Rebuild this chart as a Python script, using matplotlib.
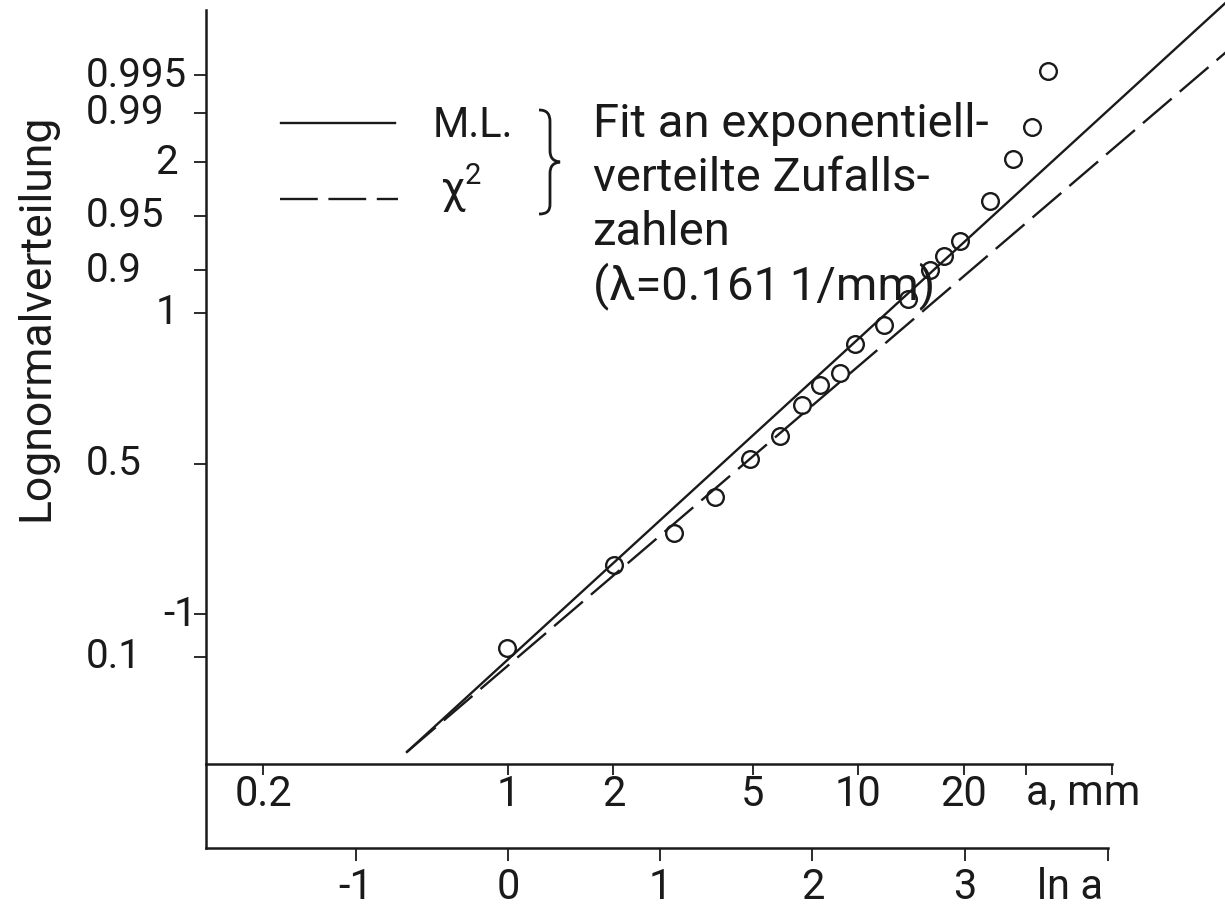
import numpy as np
import matplotlib
matplotlib.use("Agg")
import matplotlib.pyplot as plt
from matplotlib import transforms
from matplotlib.lines import Line2D
from matplotlib.path import Path
from matplotlib.patches import PathPatch
from statistics import NormalDist

# ------------------------------------------------------------
# Daten
# ------------------------------------------------------------
ln_a = [-0.007, 0.696, 1.091, 1.360, 1.590, 1.787, 1.932, 2.050, 2.181, 2.280,
        2.470, 2.628, 2.773, 2.865, 2.970, 3.167, 3.318, 3.443, 3.548]
probit = [-1.224, -0.674, -0.461, -0.222, 0.030, 0.182, 0.388, 0.521, 0.601, 0.793,
          0.919, 1.092, 1.284, 1.377, 1.476, 1.742, 2.021, 2.233, 2.605]

# Fitgeraden  z = (ln a - mu) / sigma
mu_ml, sigma_ml = 1.407, 1.082
mu_chi, sigma_chi = 1.554, 1.159
fit_from, fit_to = -0.664, 4.75

prob_ticks = [0.1, 0.5, 0.9, 0.95, 0.99, 0.995]
probit_ticks = [-1, 1, 2]
a_ticks = [0.2, 1, 2, 5, 10, 20]
a_minor = [30]
ln_ticks = [-1, 0, 1, 2, 3]

text_lines = ["Fit an exponentiell-", "verteilte Zufalls-", "zahlen", "(λ=0.161\u20091/mm)"]

# ------------------------------------------------------------
# Grundgeruest
# ------------------------------------------------------------
fam = ["Roboto", "DejaVu Sans"]
ink = "#1a1a1a"

W, H = 1225, 910
fig = plt.figure(figsize=(W / 100, H / 100), dpi=100)
pix = transforms.Affine2D().scale(1 / W, -1 / H).translate(0, 1) + fig.transFigure

x0, x1 = -1.984, 4.711
y0, y1 = -1.994, 3.076

ax = fig.add_axes([206 / W, 1 - 764 / H, (W - 206) / W, 764 / H])
ax.set_xlim(x0, x1)
ax.set_ylim(y0, y1)
ax.patch.set_alpha(0)
for s in ("top", "right"):
    ax.spines[s].set_visible(False)
ax.spines["left"].set_bounds(y0, 3.009)
ax.spines["bottom"].set_bounds(x0, 3.968)
for s in ("left", "bottom"):
    ax.spines[s].set_linewidth(1.8)
    ax.spines[s].set_color(ink)

# Fitgeraden
xf = np.array([fit_from, fit_to])
ax.plot(xf, (xf - mu_ml) / sigma_ml, color=ink, lw=1.7)
ax.plot(xf, (xf - mu_chi) / sigma_chi, color=ink, lw=1.7, dashes=(16, 4.5))

# Messpunkte
ax.plot(ln_a, probit, "o", ms=12, mfc="none", mec=ink, mew=1.7)

# ------------------------------------------------------------
# y-Achse (Wahrscheinlichkeitsnetz)
# ------------------------------------------------------------
nd = NormalDist()
prob_z = [nd.inv_cdf(p) for p in prob_ticks]
ax.set_yticks(prob_z + probit_ticks)
ax.set_yticklabels([])
ax.tick_params(axis="y", direction="out", length=8.5, width=1.3, color=ink)

ylab_tr = transforms.blended_transform_factory(pix, ax.transData)
for p, z in zip(prob_ticks, prob_z):
    ax.text(86, z, f"{p:g}", transform=ylab_tr, ha="left", va="center",
            family=fam, fontsize=29, color=ink)
for z in probit_ticks:
    xr = 197 if z < 0 else 178
    ax.text(xr, z, f"{z:d}", transform=ylab_tr, ha="right", va="center",
            family=fam, fontsize=29, color=ink)

fig.text(36, 317, "Lognormalverteilung", transform=pix, rotation=90,
         ha="center", va="center", family=fam, fontsize=32, color=ink)

# ------------------------------------------------------------
# x-Achse a, mm
# ------------------------------------------------------------
a_pos = list(np.log(a_ticks)) + list(np.log(a_minor)) + [3.968]
ax.set_xticks(a_pos)
ax.set_xticklabels([f"{a:g}" for a in a_ticks] + [""] * (len(a_minor) + 1),
                   family=fam, fontsize=30, color=ink)
ax.tick_params(axis="x", direction="out", length=8, width=1.3, pad=-1, color=ink)
fig.text(1026, 804, "a, mm", transform=pix, ha="left", va="baseline",
         family=fam, fontsize=30, color=ink)

# x-Achse ln a
ax2 = fig.add_axes([206 / W, 1 - 848 / H, (W - 206) / W, (848 - 764) / H])
ax2.set_xlim(x0, x1)
ax2.patch.set_alpha(0)
for s in ("top", "right"):
    ax2.spines[s].set_visible(False)
for s in ("left", "bottom"):
    ax2.spines[s].set_linewidth(1.8)
    ax2.spines[s].set_color(ink)
ax2.spines["bottom"].set_bounds(x0, 3.94)
ax2.set_yticks([])
ax2.set_xticks(ln_ticks + [3.94])
ax2.set_xticklabels([f"{v:d}" for v in ln_ticks] + [""],
                    family=fam, fontsize=30, color=ink)
ax2.tick_params(axis="x", direction="out", length=9, width=1.3, pad=5, color=ink)
fig.text(1037, 899, "ln a", transform=pix, ha="left", va="baseline",
         family=fam, fontsize=30, color=ink)

# ------------------------------------------------------------
# Legende
# ------------------------------------------------------------
fig.add_artist(Line2D([281, 395], [123, 123], transform=pix, color=ink, lw=1.7))
fig.add_artist(Line2D([280, 398], [199, 199], transform=pix, color=ink, lw=1.7,
                      dashes=(16, 4.5)))
fig.text(433, 137, "M.L.", transform=pix, ha="left", va="baseline",
         family=fam, fontsize=30, color=ink)
fig.text(440, 203, "χ", transform=pix, ha="left", va="baseline",
         family=fam, fontsize=32, color=ink)
fig.text(465, 184, "2", transform=pix, ha="left", va="baseline",
         family=fam, fontsize=21, color=ink)

brace = Path(
    [(539, 110), (547, 110), (550, 114), (550, 122),
     (550, 150), (550, 158), (553, 161), (560, 162),
     (553, 163), (550, 166), (550, 174),
     (550, 204), (550, 211), (547, 214), (539, 214)],
    [Path.MOVETO, Path.CURVE4, Path.CURVE4, Path.CURVE4,
     Path.LINETO, Path.CURVE4, Path.CURVE4, Path.CURVE4,
     Path.CURVE4, Path.CURVE4, Path.CURVE4,
     Path.LINETO, Path.CURVE4, Path.CURVE4, Path.CURVE4])
fig.add_artist(PathPatch(brace, transform=pix, fc="none", ec=ink, lw=2))

for i, line in enumerate(text_lines):
    fig.text(593, 137 + 54 * i, line, transform=pix, ha="left", va="baseline",
             family=fam, fontsize=34, color=ink)

fig.savefig("out.png", dpi=100)
